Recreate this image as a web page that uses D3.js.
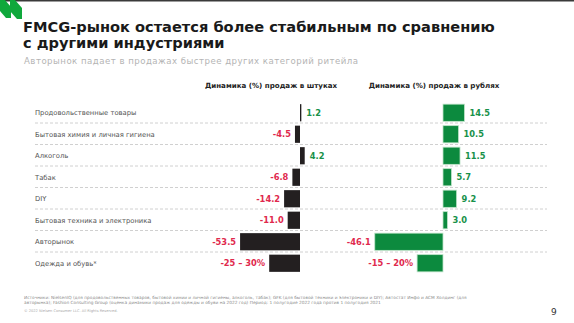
<!DOCTYPE html>
<html>
<head>
<meta charset="utf-8">
<script src="https://cdn.jsdelivr.net/npm/d3@7"></script>
<style>
  body { margin: 0; background: #fff; }
  svg { display: block; font-family: "DejaVu Sans", sans-serif; }
</style>
</head>
<body>
<svg id="chart"></svg>
<script>
const width = 574;
const height = 323;

const categories = [
  'Продовольственные товары',
  'Бытовая химия и личная гигиена',
  'Алкоголь',
  'Табак',
  'DIY',
  'Бытовая техника и электроника',
  'Авторынок',
  'Одежда и обувь*'
];
// bar values; ranges for clothing drawn at their midpoint
const unitsValues = [1.2, -4.5, 4.2, -6.8, -14.2, -11.0, -53.5, -27.5];
const unitsLabels = ['1.2', '-4.5', '4.2', '-6.8', '-14.2', '-11.0', '-53.5', '-25 – 30%'];
const rublesValues = [14.5, 10.5, 11.5, 5.7, 9.2, 3.0, -46.1, -17.5];
const rublesLabels = ['14.5', '10.5', '11.5', '5.7', '9.2', '3.0', '-46.1', '-15 – 20%'];

const green = '#18914a';
const red = '#e0294d';
const dark = '#231f20';

const svg = d3.select('#chart').attr('width', width).attr('height', height);

// top rule and logo
svg.append('rect').attr('x', 0).attr('y', 0).attr('width', width).attr('height', 1.5).attr('fill', '#3a3a3a');
svg.append('polygon').attr('points', '0,0 5,0 11,7 11,18 6,18 0,11').attr('fill', '#10a83c');
svg.append('polygon').attr('points', '10,0 15,0 22,8 22,19 17,19 10,11').attr('fill', '#10a83c');

// titles
svg.append('text').attr('x', 23).attr('y', 31.5)
  .attr('font-size', 14.6).attr('font-weight', 'bold').attr('fill', '#1a1a1a')
  .text('FMCG-рынок остается более стабильным по сравнению');
svg.append('text').attr('x', 23).attr('y', 48)
  .attr('font-size', 14.6).attr('font-weight', 'bold').attr('fill', '#1a1a1a')
  .text('с другими индустриями');
svg.append('text').attr('x', 24).attr('y', 64)
  .attr('font-size', 8.6).attr('fill', '#b4b4b4')
  .attr('textLength', 334).attr('lengthAdjust', 'spacing')
  .text('Авторынок падает в продажах быстрее других категорий ритейла');

const y = d3.scaleBand().domain(categories).range([102, 274]).paddingInner(0.2).paddingOuter(0.1);
const step = y.step();

// separators
svg.append('g').selectAll('line')
  .data(categories.slice(1))
  .join('line')
  .attr('x1', 35).attr('x2', 547)
  .attr('y1', d => y(d) - step * 0.1 - 0.5)
  .attr('y2', d => y(d) - step * 0.1 - 0.5)
  .attr('stroke', '#c4c4c4').attr('stroke-width', 0.8).attr('stroke-dasharray', '3,2');

// row labels
svg.append('g').selectAll('text')
  .data(categories)
  .join('text')
  .attr('x', 35)
  .attr('y', d => y(d) + y.bandwidth() / 2)
  .attr('dy', '0.35em')
  .attr('font-size', 6.8).attr('fill', '#555')
  .text(d => d);

function panel(values, labels, x0, pxPerUnit, fill, stroke, header, headerX){
  const x = d3.scaleLinear().domain([0, 1]).range([x0, x0 + pxPerUnit]);
  const g = svg.append('g');
  g.append('text').attr('x', headerX).attr('y', 88).attr('text-anchor', 'middle')
    .attr('font-size', 7.1).attr('font-weight', 'bold').attr('fill', '#222')
    .text(header);
  g.selectAll('rect')
    .data(values)
    .join('rect')
    .attr('x', d => Math.min(x(0), x(d)))
    .attr('y', (d, i) => y(categories[i]))
    .attr('width', d => Math.max(1, Math.abs(x(d) - x(0))))
    .attr('height', y.bandwidth())
    .attr('fill', fill)
    .attr('stroke', stroke).attr('stroke-width', stroke === 'none' ? 0 : 0.8);
  g.selectAll('text.val')
    .data(values)
    .join('text')
    .attr('class', 'val')
    .attr('x', d => d >= 0 ? Math.max(x(d), x(0) + 1) + 5 : x(d) - 4)
    .attr('y', (d, i) => y(categories[i]) + y.bandwidth() / 2)
    .attr('dy', '0.36em')
    .attr('text-anchor', d => d >= 0 ? 'start' : 'end')
    .attr('font-size', 8.3).attr('font-weight', 'bold')
    .attr('fill', d => d >= 0 ? green : red)
    .text((d, i) => labels[i]);
}

panel(unitsValues, unitsLabels, 300, 1.12, dark, 'none', 'Динамика (%) продаж в штуках', 271);
panel(rublesValues, rublesLabels, 443, 1.48, '#0c8a3e', '#bfe3c9', 'Динамика (%) продаж в рублях', 434);

// footnotes
const notes = [
  'Источники: NielsenIQ (для продовольственных товаров, бытовой химии и личной гигиены, алкоголь, табак); GFK (для бытовой техники и электроники и DIY); Автостат Инфо и АСМ Холдинг (для',
  'авторынка); Fashion Consulting Group (оценка динамики продаж для одежды и обуви на 2022 год) Период: 1 полугодие 2022 года против 1 полугодия 2021'
];
svg.append('g').selectAll('text')
  .data(notes)
  .join('text')
  .attr('x', 24).attr('y', (d, i) => 298.5 + i * 5.5)
  .attr('font-size', 4.3).attr('fill', '#8a8a8a')
  .text(d => d);
svg.append('text').attr('x', 24).attr('y', 312)
  .attr('font-size', 3.6).attr('fill', '#aaa')
  .text('© 2022 Nielsen Consumer LLC. All Rights Reserved.');
svg.append('text').attr('x', 551).attr('y', 315)
  .attr('font-size', 9).attr('fill', '#333')
  .text('9');
</script>
</body>
</html>
